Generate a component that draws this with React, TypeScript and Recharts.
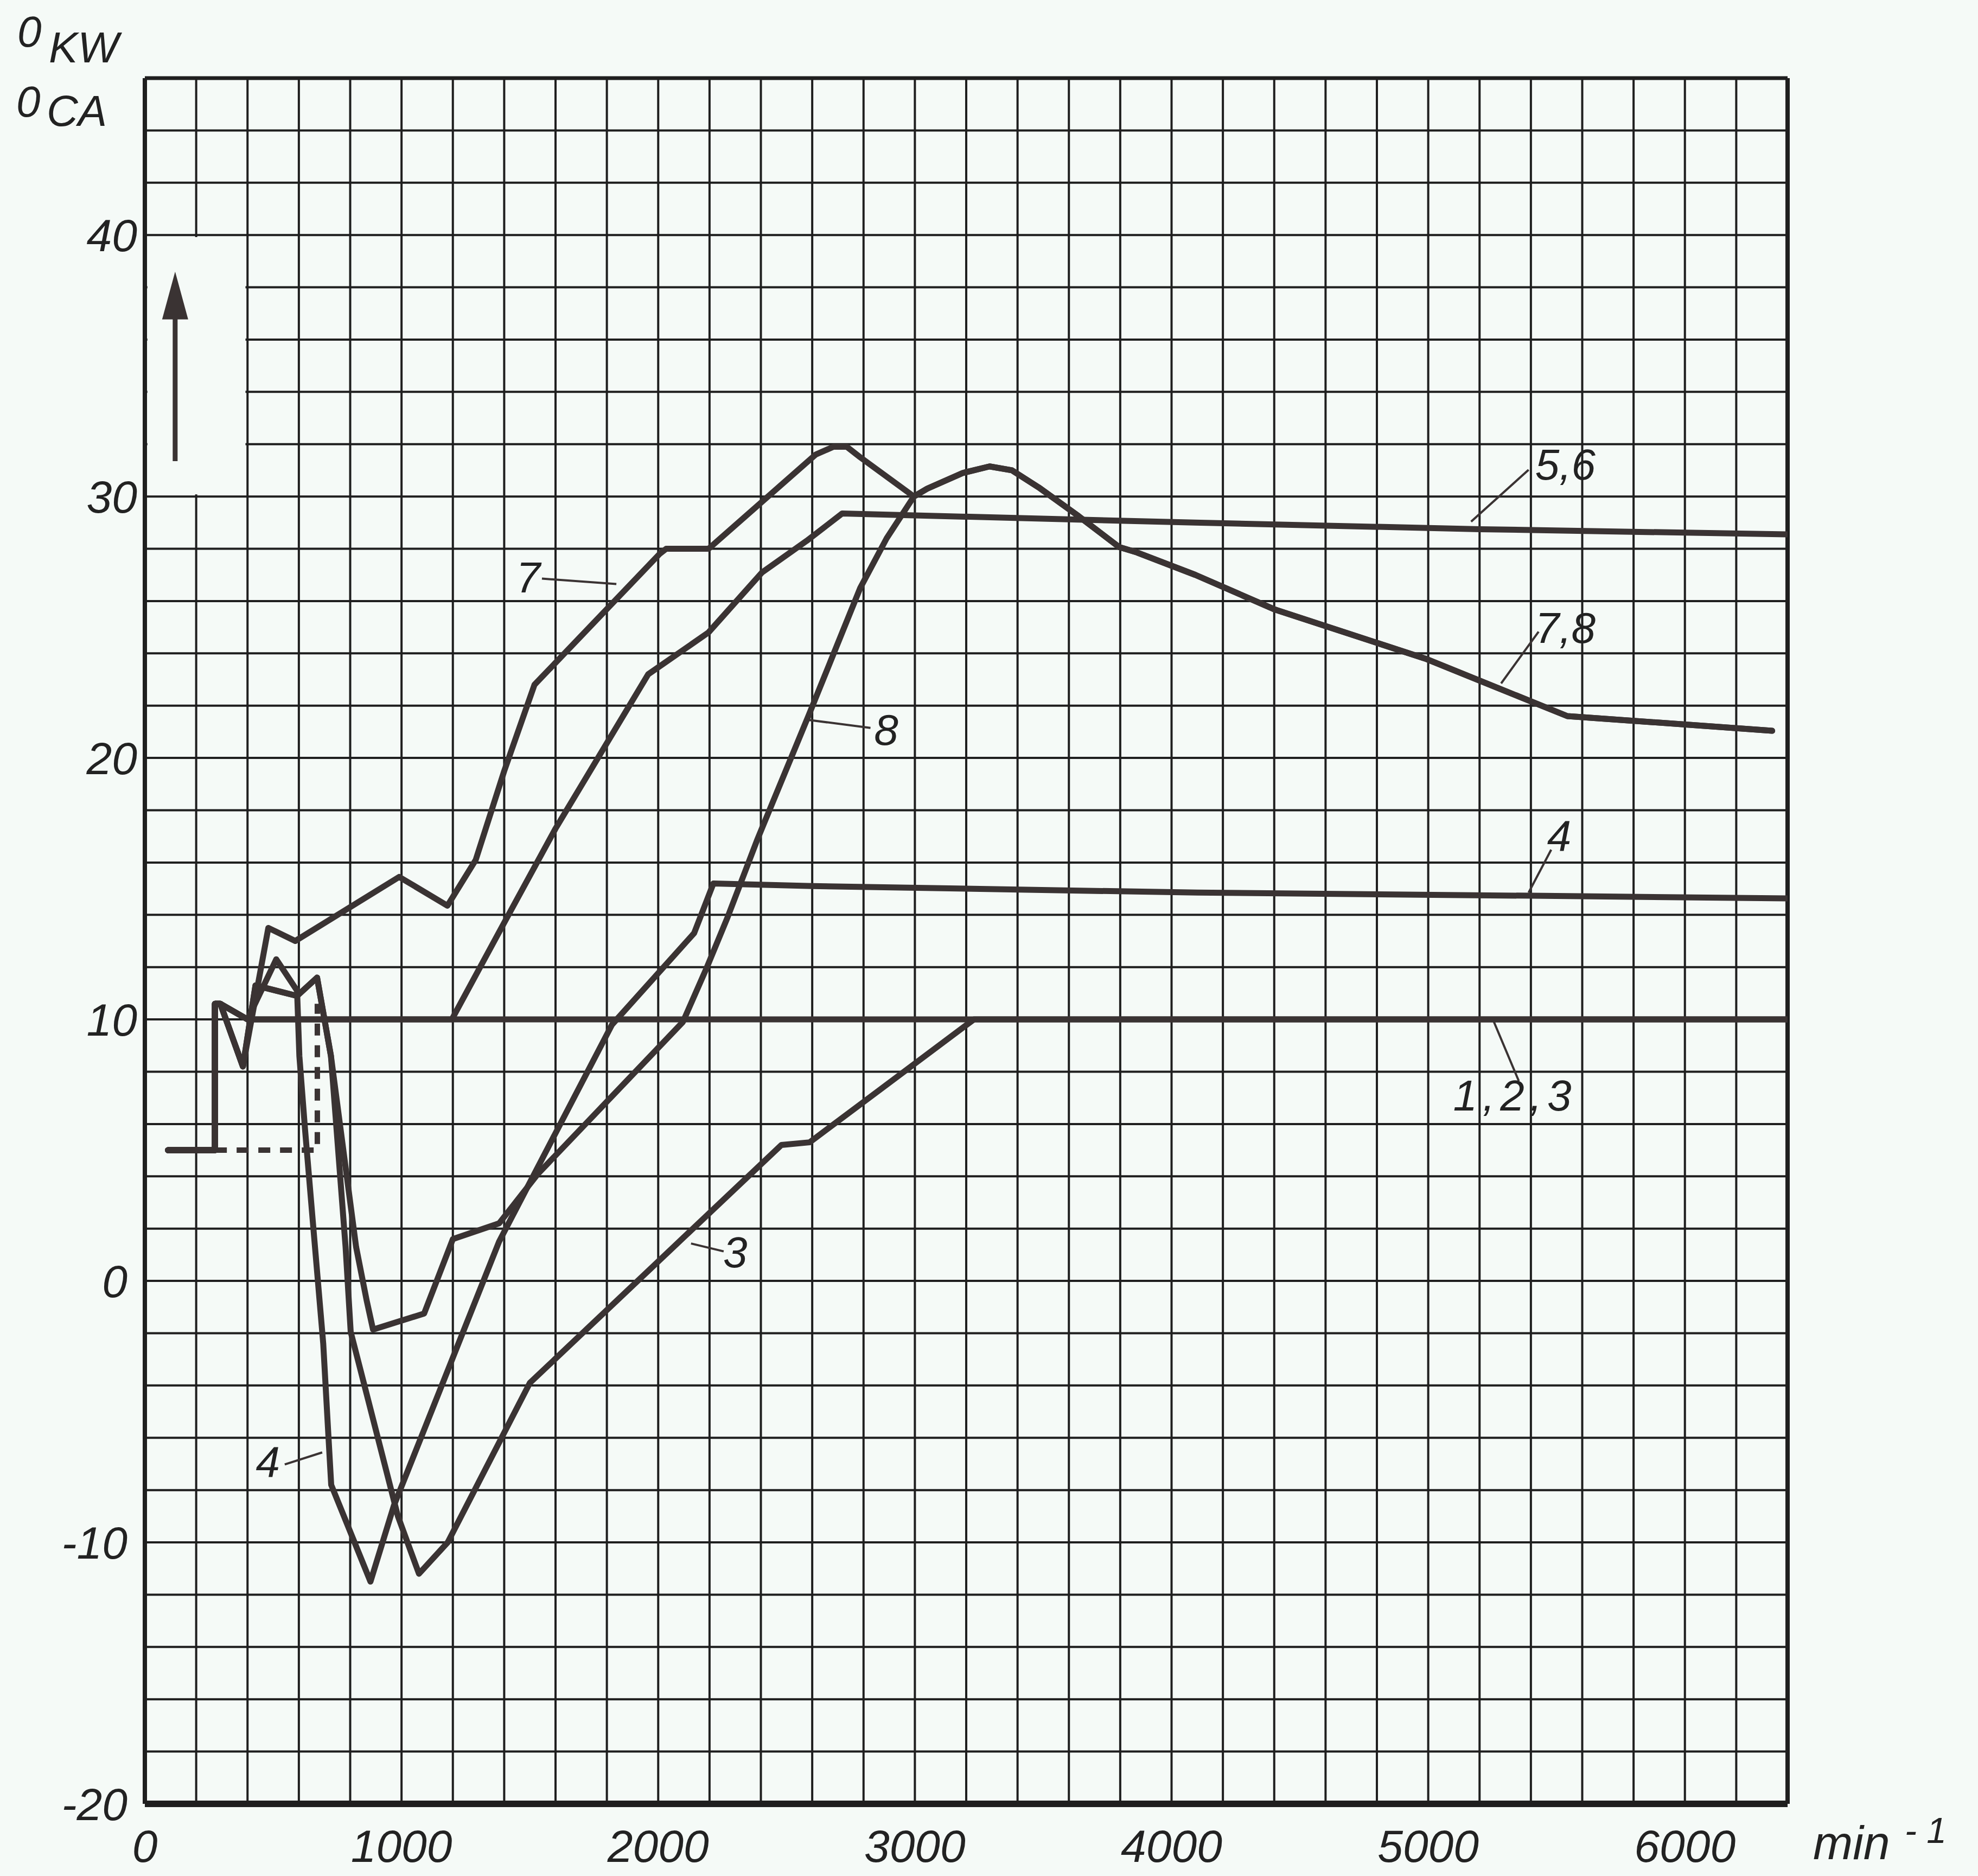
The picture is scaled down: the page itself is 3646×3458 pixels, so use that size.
import React from "react";
import {
  LineChart,
  Line,
  XAxis,
  YAxis,
  CartesianGrid,
  ReferenceArea,
  ReferenceLine,
  ReferenceDot,
} from "recharts";

const W = 3646;
const H = 3458;
const PAPER = "#f5faf7";
const INK = "#3a3333";
const GRID = "#1f1f1f";
const TEXT = "#222";
const FONT = "'Liberation Sans', Arial, sans-serif";

// tick labels
const xLabels = [0, 1000, 2000, 3000, 4000, 5000, 6000];
const yLabels = [-20, -10, 0, 10, 20, 30, 40];

// graph paper: one cell = 200 min-1 x 2 deg
const xGrid = Array.from({ length: 33 }, (_, i) => i * 200);
const yGrid = Array.from({ length: 34 }, (_, i) => -20 + i * 2);

// idle step shared by all curves
const idleRpm = [90, 273, 273, 294];
const idleDeg = [5, 5, 10.6, 10.6];

// curves 1,2
const rpm12 = [...idleRpm, 400, 6400];
const deg12 = [...idleDeg, 10, 10];

// dashed variant of the idle step
const rpmDash = [273, 672, 672];
const degDash = [5, 5, 10.6];

// curve 3
const rpm3 = [...idleRpm, 382, 431, 593, 671, 725, 782, 802, 853, 986, 1068, 1180, 1500, 2480, 2590, 3230, 6400];
const deg3 = [...idleDeg, 8.2, 11.3, 10.9, 11.6, 8.6, 1.3, -1.95, -3.9, -9.0, -11.2, -10.0, -3.9, 5.2, 5.3, 10.0, 10.0];

// curve 4
const rpm4 = [...idleRpm, 400, 512, 593, 602, 624, 655, 695, 715, 726, 879, 970, 1380, 1820, 2140, 2215, 2600, 4100, 5400, 6400];
const deg4 = [...idleDeg, 10, 12.3, 11.1, 8.6, 5.8, 2.2, -2.4, -5.9, -7.8, -11.5, -8.6, 1.5, 9.8, 13.3, 15.2, 15.1, 14.85, 14.73, 14.63];

// curves 5,6
const rpm56 = [...idleRpm, 400, 1196, 1400, 1600, 1961, 2196, 2405, 2578, 2717, 4090, 5200, 6400];
const deg56 = [...idleDeg, 10, 10, 13.7, 17.3, 23.2, 24.8, 27.1, 28.3, 29.35, 29.0, 28.75, 28.55];

// common tail of curves 7 and 8
const rpm78 = [3048, 3187, 3291, 3378, 3482, 3639, 3795, 3865, 4093, 4404, 4988, 5542, 5572, 6340];
const deg78 = [30.3, 30.9, 31.15, 31.0, 30.35, 29.24, 28.07, 27.86, 27.0, 25.67, 23.8, 21.6, 21.58, 21.04];

// curve 7
const rpm7 = [...idleRpm, 382, 481, 586, 991, 1179, 1289, 1400, 1518, 2005, 2031, 2196, 2613, 2683, 2735, 2787, 2996, ...rpm78];
const deg7 = [...idleDeg, 8.2, 13.5, 13.0, 15.45, 14.35, 16.1, 19.5, 22.8, 27.8, 28.0, 28.0, 31.6, 31.9, 31.9, 31.5, 30.0, ...deg78];

// curve 8
const rpm8 = [...idleRpm, 382, 431, 593, 671, 725, 823, 864, 889, 1088, 1200, 1380, 1532, 2096, 2190, 2270, 2387, 2587, 2787, 2890, 2996, ...rpm78];
const deg8 = [...idleDeg, 8.2, 11.3, 10.9, 11.6, 8.6, 1.3, -0.74, -1.86, -1.25, 1.6, 2.2, 4.1, 9.9, 12.0, 13.9, 16.9, 21.65, 26.5, 28.4, 30.0, ...deg78];

const toData = (r: number[], d: number[]) => r.map((x, i) => ({ rpm: x, deg: d[i] }));

const curves = [
  { name: "1,2", data: toData(rpm12, deg12) },
  { name: "3", data: toData(rpm3, deg3) },
  { name: "4", data: toData(rpm4, deg4) },
  { name: "5,6", data: toData(rpm56, deg56) },
  { name: "7", data: toData(rpm7, deg7) },
  { name: "8", data: toData(rpm8, deg8) },
];

// curve labels with their leader lines (in chart units)
const notes = [
  { text: "7", x: 1494, y: 26.94, from: [1547, 26.86], to: [1837, 26.65] },
  { text: "8", x: 2888, y: 21.1, from: [2827, 21.15], to: [2581, 21.46] },
  { text: "3", x: 2300, y: 1.13, from: [2255, 1.13], to: [2128, 1.43] },
  { text: "4", x: 479, y: -6.88, from: [545, -7.02], to: [691, -6.56] },
  { text: "5,6", x: 5534, y: 31.25, from: [5391, 31.02], to: [5167, 29.04] },
  { text: "7,8", x: 5534, y: 25.0, from: [5430, 24.83], to: [5284, 22.85] },
  { text: "4", x: 5510, y: 17.05, from: [5479, 16.49], to: [5391, 14.85] },
  { text: "1,2,3", x: 5338, y: 7.11, from: [5353, 7.64], to: [5254, 9.95] },
];

const textStyle = { fontFamily: FONT, fontStyle: "italic" as const, fill: TEXT };

function XTick({ x, y, payload }: any) {
  if (!xLabels.includes(payload.value)) return <g />;
  return (
    <text x={x} y={y + 107} textAnchor="middle" fontSize={84} {...textStyle}>
      {payload.value}
    </text>
  );
}

function YTick({ x, y, payload }: any) {
  const v = payload.value;
  if (!yLabels.includes(v)) return <g />;
  const gap = v > 0 ? 14 : 32;
  return (
    <text x={x - gap} y={y + 30} textAnchor="end" fontSize={84} {...textStyle}>
      {v}
    </text>
  );
}

export default function App() {
  return (
    <div style={{ position: "absolute", left: 0, top: 0, width: W, height: H, background: PAPER }}>
      <LineChart width={W} height={H} margin={{ top: 144, right: 351, bottom: 0, left: 0 }}>
        <CartesianGrid stroke={GRID} strokeWidth={4} />
        <XAxis
          type="number"
          dataKey="rpm"
          domain={[0, 6400]}
          ticks={xGrid}
          interval={0}
          height={133}
          tickSize={0}
          tickMargin={0}
          tickLine={false}
          axisLine={{ stroke: GRID, strokeWidth: 12 }}
          tick={XTick}
          allowDataOverflow
        />
        <YAxis
          type="number"
          dataKey="deg"
          domain={[-20, 46]}
          ticks={yGrid}
          interval={0}
          width={267}
          tickSize={0}
          tickMargin={0}
          tickLine={false}
          axisLine={{ stroke: GRID, strokeWidth: 8 }}
          tick={YTick}
          allowDataOverflow
        />

        {/* blank box behind the arrow */}
        <ReferenceArea x1={10} x2={392} y1={30.08} y2={39.92} fill={PAPER} fillOpacity={1} stroke="none" />

        {/* frame */}
        <ReferenceLine x={6400} stroke={GRID} strokeWidth={8} />
        <ReferenceLine y={46} stroke={GRID} strokeWidth={7} />

        {/* arrow */}
        <ReferenceLine segment={[{ x: 118, y: 31.35 }, { x: 118, y: 37.2 }]} stroke={INK} strokeWidth={9} />
        <ReferenceDot
          x={118}
          y={38.6}
          r={0}
          ifOverflow="visible"
          shape={(p: any) => (
            <polygon
              points={`${p.cx},${p.cy} ${p.cx - 24},${p.cy + 88} ${p.cx + 24},${p.cy + 88}`}
              fill={INK}
            />
          )}
        />

        <Line
          data={toData(rpmDash, degDash)}
          dataKey="deg"
          type="linear"
          stroke={INK}
          strokeWidth={10}
          strokeDasharray="22 18"
          dot={false}
          isAnimationActive={false}
        />
        {curves.map((c) => (
          <Line
            key={c.name}
            data={c.data}
            dataKey="deg"
            name={c.name}
            type="linear"
            stroke={INK}
            strokeWidth={11}
            strokeLinejoin="round"
            strokeLinecap="round"
            dot={false}
            isAnimationActive={false}
          />
        ))}

        {notes.map((n, i) => (
          <ReferenceLine
            key={"l" + i}
            segment={[{ x: n.from[0], y: n.from[1] }, { x: n.to[0], y: n.to[1] }]}
            stroke={INK}
            strokeWidth={4}
          />
        ))}
        {notes.map((n, i) => (
          <ReferenceDot
            key={"t" + i}
            x={n.x}
            y={n.y}
            r={0}
            ifOverflow="visible"
            shape={(p: any) => (
              <text
                x={p.cx}
                y={p.cy + 29}
                textAnchor="middle"
                fontSize={80}
                letterSpacing={n.text.length > 3 ? 10 : 0}
                {...textStyle}
              >
                {n.text}
              </text>
            )}
          />
        ))}

        {/* axis titles */}
        <ReferenceDot
          x={0}
          y={46}
          r={0}
          ifOverflow="visible"
          shape={(p: any) => (
            <g {...textStyle} fontSize={80}>
              <text x={p.cx - 235} y={p.cy - 58}>0</text>
              <text x={p.cx - 177} y={p.cy - 29}>KW</text>
              <text x={p.cx - 237} y={p.cy + 71}>0</text>
              <text x={p.cx - 181} y={p.cy + 88}>CA</text>
            </g>
          )}
        />
        <ReferenceDot
          x={6400}
          y={-20}
          r={0}
          ifOverflow="visible"
          shape={(p: any) => (
            <g {...textStyle}>
              <text x={p.cx + 47} y={p.cy + 102} fontSize={88}>min</text>
              <text x={p.cx + 216} y={p.cy + 72} fontSize={66}>- 1</text>
            </g>
          )}
        />
      </LineChart>
    </div>
  );
}
